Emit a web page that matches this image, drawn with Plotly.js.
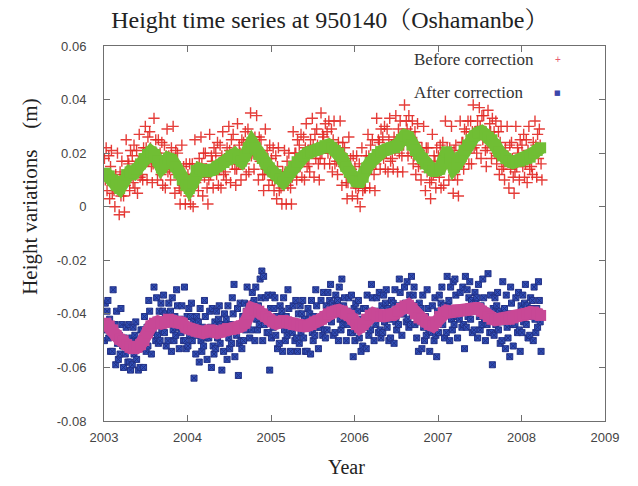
<!DOCTYPE html>
<html><head><meta charset="utf-8">
<script src="https://cdn.plot.ly/plotly-3.0.1.min.js"></script>
<style>html,body{margin:0;padding:0;background:#fff}#chart{width:638px;height:486px}</style>
</head><body><div id="chart"></div>
<script>
// Time grid: half-month periods starting Jan 2003 (in mm)
const startYear = 2003;
const periodsPerYear = 24;

const xTickVals = [2003, 2004, 2005, 2006, 2007, 2008, 2009];
const xTickText = ['2003', '2004', '2005', '2006', '2007', '2008', '2009'];
const yTickVals = [0.06, 0.04, 0.02, 0, -0.02, -0.04, -0.06, -0.08];
const yTickText = ['0.06', '0.04', '0.02', '0', '-0.02', '-0.04', '-0.06', '-0.08'];

// Before correction: raw samples (mm), 4 per half-month period
const beforeMM = [
 [18,10,22,6],[10,19,3,15],[21,5,11,6],[0,12,7,20],[9,-3,13,4],[17,11,4,-2],[8,25,10,17],[16,6,21,13],
 [19,9,23,7],[12,21,5,17],[27,11,17,12],[10,22,17,30],[22,10,26,17],[28,22,15,9],[16,33,18,25],[20,10,25,17],
 [20,12,24,8],[14,23,7,19],[29,13,19,14],[10,22,17,30],[17,5,21,12],[20,14,7,1],[6,23,8,15],[11,1,16,8],
 [12,4,16,1],[7,16,0,12],[25,9,15,10],[6,18,13,26],[16,4,20,11],[20,14,7,1],[10,27,12,19],[17,7,22,14],
 [20,12,24,8],[14,23,7,19],[28,12,18,13],[10,22,17,30],[21,9,25,16],[27,21,14,8],[14,31,16,23],[20,10,25,17],
 [24,16,28,12],[20,29,13,25],[35,19,25,20],[14,26,21,34],[22,10,26,17],[25,19,12,6],[12,29,14,21],[18,8,23,15],
 [18,10,22,6],[10,19,3,15],[22,6,12,7],[1,13,8,21],[13,1,17,8],[20,14,7,1],[11,28,13,20],[20,10,25,17],
 [23,15,27,11],[17,26,10,22],[31,15,21,16],[13,25,20,33],[23,11,27,18],[29,23,16,10],[18,35,20,27],[26,16,31,23],
 [28,20,32,16],[20,29,13,25],[32,16,22,17],[12,24,19,32],[20,8,24,15],[22,16,9,3],[9,26,11,18],[14,4,19,11],
 [15,7,19,3],[7,16,0,12],[22,6,12,7],[7,19,14,27],[19,7,23,14],[25,19,12,6],[16,33,18,25],[24,14,29,21],
 [26,18,30,14],[20,29,13,25],[33,17,23,18],[14,26,21,34],[25,13,29,20],[32,26,19,13],[23,38,25,32],[29,19,34,26],
 [28,20,32,16],[19,28,12,24],[31,15,21,16],[10,22,17,30],[18,6,22,13],[22,16,9,3],[10,27,12,19],[17,7,22,14],
 [19,11,23,7],[15,24,8,20],[32,16,22,17],[10,22,17,30],[17,5,21,12],[23,17,10,4],[15,32,17,24],[24,14,29,21],
 [28,20,32,16],[23,32,16,28],[38,22,28,23],[20,32,27,37],[30,18,34,25],[34,28,21,15],[22,36,24,31],[28,18,33,25],
 [28,20,32,16],[19,28,12,24],[30,14,20,15],[10,22,17,30],[19,7,23,14],[24,18,11,5],[13,30,15,22],[20,10,25,17],
 [23,15,27,11],[16,25,9,21],[30,14,20,15],[12,24,19,32],[23,11,27,18],[29,23,16,10]
];

// After correction: raw samples (mm), 4 per half-month period
const afterMM = [
 [-50,-36,-46,-39],[-35,-49,-42,-54],[-47,-54,-31,-44],[-44,-59,-39,-51],[-57,-48,-55,-38],[-44,-52,-60,-49],[-55,-45,-51,-58],[-44,-58,-61,-49],
 [-59,-45,-55,-48],[-43,-57,-50,-61],[-53,-60,-46,-50],[-46,-60,-41,-53],[-54,-45,-52,-35],[-39,-47,-55,-44],[-47,-30,-43,-50],[-34,-48,-51,-39],
 [-50,-36,-46,-39],[-33,-47,-40,-52],[-43,-50,-36,-40],[-39,-54,-34,-46],[-50,-41,-48,-31],[-37,-45,-53,-42],[-47,-37,-43,-50],[-30,-50,-53,-41],
 [-52,-38,-48,-41],[-36,-50,-43,-64],[-48,-55,-41,-45],[-43,-58,-38,-50],[-54,-45,-52,-35],[-41,-49,-57,-46],[-49,-39,-45,-60],[-38,-52,-55,-43],
 [-53,-39,-49,-42],[-37,-51,-44,-61],[-47,-54,-40,-44],[-42,-57,-37,-49],[-53,-44,-51,-34],[-40,-29,-56,-45],[-48,-38,-63,-51],[-36,-50,-53,-41],
 [-50,-36,-46,-39],[-30,-44,-37,-49],[-39,-46,-32,-36],[-35,-50,-30,-42],[-46,-37,-44,-27],[-34,-24,-50,-26],[-44,-34,-40,-47],[-33,-47,-61,-38],
 [-49,-33,-45,-38],[-34,-48,-41,-53],[-44,-51,-37,-41],[-39,-54,-34,-46],[-50,-41,-48,-31],[-38,-46,-54,-43],[-47,-37,-43,-50],[-35,-49,-54,-40],
 [-51,-37,-47,-40],[-35,-49,-42,-54],[-45,-54,-38,-42],[-40,-55,-35,-47],[-50,-41,-48,-31],[-37,-45,-53,-42],[-45,-35,-41,-48],[-32,-46,-49,-37],
 [-46,-32,-42,-35],[-29,-43,-36,-48],[-40,-47,-33,-37],[-35,-50,-30,-42],[-46,-27,-44,-37],[-34,-42,-50,-39],[-44,-34,-40,-47],[-33,-47,-56,-38],
 [-50,-36,-46,-39],[-35,-49,-42,-54],[-45,-52,-38,-42],[-38,-53,-33,-45],[-48,-39,-46,-29],[-34,-42,-50,-39],[-44,-34,-40,-47],[-32,-46,-49,-37],
 [-47,-33,-43,-36],[-31,-45,-38,-50],[-42,-49,-35,-39],[-36,-51,-31,-43],[-46,-37,-44,-27],[-32,-40,-48,-37],[-40,-30,-36,-43],[-28,-42,-45,-33],
 [-44,-26,-40,-33],[-30,-44,-37,-49],[-43,-54,-36,-40],[-38,-53,-33,-45],[-50,-41,-48,-31],[-38,-46,-54,-43],[-47,-37,-43,-50],[-34,-48,-56,-39],
 [-47,-33,-43,-36],[-30,-44,-37,-49],[-40,-47,-26,-37],[-35,-50,-30,-42],[-46,-28,-44,-27],[-33,-41,-49,-38],[-42,-32,-38,-45],[-30,-44,-53,-26],
 [-45,-31,-41,-34],[-28,-42,-35,-47],[-39,-46,-32,-36],[-34,-49,-29,-41],[-46,-37,-44,-27],[-34,-42,-50,-39],[-44,-25,-40,-47],[-33,-47,-59,-38],
 [-48,-34,-44,-37],[-32,-46,-39,-51],[-43,-50,-28,-40],[-38,-53,-33,-45],[-49,-40,-56,-30],[-36,-44,-52,-41],[-44,-34,-40,-47],[-32,-46,-54,-37],
 [-47,-33,-43,-36],[-29,-44,-37,-49],[-41,-48,-34,-38],[-35,-50,-30,-42],[-47,-38,-45,-28],[-35,-43,-54,-40]
];

// Smoothed series (mm), one per half-month period
const beforeSmoothMM = [
 12.5,11.5,10,8,6.8,9.5,12,13,12.5,14,16,18,19.5,20.5,19.5,17,14.5,16,18,17.5,15,12.5,10,8,
 6.8,9,13.5,14,13.5,13,13.5,14,15,15.7,16.5,17.5,19,19.5,18,17,19,22,24,22,19.5,18,16,14.5,
 13,12,10.5,9.4,11,13,15,16.8,18,19,20,20.6,21,21.5,22,22.8,23,22,21,20,18,15,13,11,
 9.5,9.4,11,14.5,16.5,18,19.5,20.6,21,21.5,22,22,23,25,26.5,26,23,21,19.5,18,16,14.5,13.5,13.5,
 14,17,20.5,18,14.5,16,18.5,21,23,25,26.5,27.5,28,27,26,25,23,20.5,19,18,17,16.5,17,17,
 17.5,18,18.5,20,21,22
];
const afterSmoothMM = [
 -43.5,-44.5,-46,-48,-49.5,-50,-51.5,-52.5,-53,-52.5,-51.5,-50,-47,-44.5,-43.5,-43,-43.5,-43,-42,-42.5,-43,-43,-43.5,-45,
 -45.6,-46,-46.5,-46.8,-47,-46.5,-46,-46.5,-47,-46.8,-46,-45.5,-45.8,-45.6,-45,-44.5,-43.5,-40,-38,-38.5,-39,-40,-41,-42,
 -43,-43.5,-43,-42.5,-43,-43.5,-44,-44,-44.5,-44.5,-44.4,-44,-43,-42.5,-42,-41,-40,-39.3,-39,-38.7,-39,-40,-40.6,-42,
 -44,-45,-44,-42,-40.5,-40,-40.5,-41,-40.8,-40.5,-40.6,-40,-39,-38,-37,-36.8,-38,-40,-41.5,-42,-43,-44,-44.4,-43,
 -41,-39.5,-39,-39.3,-39,-38.5,-38.7,-38.7,-38.5,-38,-38,-38,-39,-40,-41,-42,-42.2,-42,-41.8,-42,-42,-41.5,-41,-40.6,
 -40.5,-40,-39.5,-39.3,-40,-40.6
];

function rawSeries(groups) {
  const x = [], y = [];
  groups.forEach((g, k) => g.forEach((v, j) => {
    x.push(startYear + (k + (j + 0.5) / g.length) / periodsPerYear);
    y.push(v / 1000);
  }));
  return {x, y};
}
function smoothSeries(vals) {
  return {
    x: vals.map((v, k) => startYear + (k + 0.5) / periodsPerYear),
    y: vals.map(v => v / 1000)
  };
}

const red = rawSeries(beforeMM), blue = rawSeries(afterMM);
const green = smoothSeries(beforeSmoothMM), mag = smoothSeries(afterSmoothMM);

const traces = [
  {x: red.x, y: red.y, type: 'scatter', mode: 'markers', name: 'Before correction', showlegend: false,
   marker: {symbol: 'cross-thin-open', size: 8, color: 'rgba(226,40,36,0.9)', line: {width: 1.4, color: 'rgba(226,40,36,0.9)'}}},
  {x: green.x, y: green.y, type: 'scatter', mode: 'lines+markers', showlegend: false,
   line: {color: 'rgb(112,190,52)', width: 13, shape: 'linear'},
   marker: {symbol: 'square', size: 11, color: 'rgb(112,190,52)'}},
  {x: blue.x, y: blue.y, type: 'scatter', mode: 'markers', name: 'After correction', showlegend: false,
   marker: {symbol: 'square-x', size: 6, color: 'rgb(48,78,182)', line: {width: 1, color: 'rgb(35,50,135)'}}},
  {x: mag.x, y: mag.y, type: 'scatter', mode: 'lines+markers', showlegend: false,
   line: {color: 'rgb(200,72,150)', width: 13},
   marker: {symbol: 'square', size: 11, color: 'rgb(200,72,150)'}}
];

const axisCommon = {
  showgrid: false, zeroline: false, showline: true, linecolor: '#6f6f6f', linewidth: 1,
  ticks: 'inside', ticklen: 6, tickcolor: '#6f6f6f', tickwidth: 1, mirror: 'ticks',
  tickfont: {family: 'Liberation Sans, Arial, sans-serif', size: 13, color: '#444'}
};

const serif = 'Liberation Serif, Noto Serif CJK JP, Noto Sans CJK JP, serif';
const layout = {
  width: 638, height: 486,
  margin: {l: 104, r: 33, t: 46, b: 65},
  paper_bgcolor: '#fff', plot_bgcolor: '#fff',
  showlegend: false,
  title: {text: 'Height time series at 950140（Oshamanbe）', font: {family: serif, size: 24, color: '#222'},
          x: 0.517, xanchor: 'center', y: 0.96, yanchor: 'middle'},
  xaxis: Object.assign({}, axisCommon, {range: [2003, 2009], tickvals: xTickVals, ticktext: xTickText, ticklabelstandoff: 4}),
  yaxis: Object.assign({}, axisCommon, {range: [-0.08, 0.06], tickvals: yTickVals, ticktext: yTickText, ticklabelstandoff: 14}),
  annotations: [
    {text: 'Height variations　(m)', textangle: -90, xref: 'paper', yref: 'paper', x: -0.148, y: 0.6,
     xanchor: 'center', yanchor: 'middle', showarrow: false, font: {family: serif, size: 21, color: '#222'}},
    {text: 'Year', xref: 'paper', yref: 'paper', x: 0.485, y: -0.123, xanchor: 'center', yanchor: 'middle',
     showarrow: false, font: {family: serif, size: 20, color: '#222'}},
    {text: 'Before correction', xref: 'paper', yref: 'paper', x: 0.615, y: 0.963, xanchor: 'left', yanchor: 'middle',
     showarrow: false, font: {family: serif, size: 17, color: '#333'}},
    {text: 'After correction', xref: 'paper', yref: 'paper', x: 0.615, y: 0.875, xanchor: 'left', yanchor: 'middle',
     showarrow: false, font: {family: serif, size: 17, color: '#333'}},
    {text: '+', xref: 'paper', yref: 'paper', x: 0.906, y: 0.963, xanchor: 'center', yanchor: 'middle',
     showarrow: false, font: {family: 'Liberation Sans', size: 10, color: 'rgb(232,90,110)'}},
    {text: '■', xref: 'paper', yref: 'paper', x: 0.906, y: 0.875, xanchor: 'center', yanchor: 'middle',
     showarrow: false, font: {family: 'DejaVu Sans', size: 7, color: 'rgb(60,70,170)'}}
  ]
};

Plotly.newPlot('chart', traces, layout, {displayModeBar: false, staticPlot: true});
</script>
</body></html>
